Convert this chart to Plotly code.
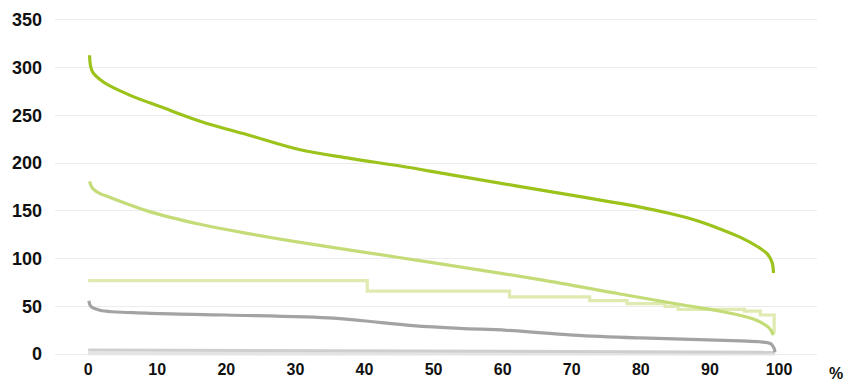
import plotly.graph_objects as go

# Series data (percent of time vs value)
top_x = [0.2, 0.6, 2.2, 6.1, 10.9, 16.2, 23.4, 30.7, 37.9, 45.2, 52.4, 65.4, 79.9, 84.4, 88.5, 91.5, 94.5, 96.8, 98.3, 99.0, 99.2]
top_v = [313, 296, 285, 271, 258, 244, 229, 214, 205, 197, 188, 172, 154, 147, 139, 131, 122, 113, 105, 96, 85]

mid_x = [0.2, 0.6, 1.5, 3.2, 9.0, 16.2, 23.4, 30.7, 45.2, 52.4, 65.4, 77.0, 85.7, 91.5, 96.2, 98.5, 99.2]
mid_v = [181, 174, 169, 164, 149, 136, 126, 117, 101, 93, 78, 63, 52, 45, 37, 28, 20]

step_x = [0, 40.4, 61.0, 72.6, 78.0, 83.5, 85.4, 95.0, 97.3, 99.3, 99.3]
step_v = [77, 66, 60, 56, 53, 50, 47, 45, 41, 41, 22]

gray_x = [0.1, 0.4, 1.7, 8.5, 20.0, 35.5, 39.8, 47.0, 53.8, 60.6, 70.2, 79.9, 94.4, 97.2, 98.8, 99.3, 99.4]
gray_v = [56, 50, 46, 43, 41, 37.7, 35, 30, 27, 25, 20, 17, 14, 13, 11, 6, 2]

low1_x = [0, 20, 40, 60, 80, 99.4]
low1_v = [4.5, 4.0, 3.5, 3.0, 2.5, 2.0]

low2_x = [0, 50, 99.4]
low2_v = [0.6, 0.5, 0.4]

x_ticks = [0, 10, 20, 30, 40, 50, 60, 70, 80, 90, 100]
y_ticks = [0, 50, 100, 150, 200, 250, 300, 350]

fig = go.Figure()
fig.add_trace(go.Scatter(x=low2_x, y=low2_v, mode="lines", line=dict(color="#e4e4e4", width=3.5)))
fig.add_trace(go.Scatter(x=low1_x, y=low1_v, mode="lines", line=dict(color="#cfcfcf", width=3)))
fig.add_trace(go.Scatter(x=gray_x, y=gray_v, mode="lines", line=dict(color="#a3a3a3", width=3.2, shape="spline")))
fig.add_trace(go.Scatter(x=step_x, y=step_v, mode="lines", line=dict(color="#dfeab0", width=3.2, shape="hv")))
fig.add_trace(go.Scatter(x=mid_x, y=mid_v, mode="lines", line=dict(color="#c4dc78", width=3.2, shape="spline")))
fig.add_trace(go.Scatter(x=top_x, y=top_v, mode="lines", line=dict(color="#9bc31c", width=3.2, shape="spline")))

fig.update_layout(
    width=847, height=385,
    margin=dict(l=55, r=30, t=18, b=27),
    plot_bgcolor="white", paper_bgcolor="white",
    showlegend=False,
    font=dict(family="Liberation Sans, Arial, sans-serif", size=16, color="#111111"),
    xaxis=dict(range=[-4.8, 105.5], tickvals=x_ticks, showgrid=False, zeroline=False,
               showline=False, tickfont=dict(size=16, weight="bold"), ticks="",
               automargin=False),
    yaxis=dict(range=[-4, 352], tickvals=y_ticks, showgrid=True, gridcolor="#ececec",
               gridwidth=1, zeroline=False, showline=False, ticks="",
               tickfont=dict(size=18, weight="bold"), ticklabelstandoff=12,
               automargin=False),
    annotations=[dict(text="%", xref="paper", yref="paper", x=1.025, y=-0.045, showarrow=False,
                      font=dict(size=16, weight="bold"), xanchor="center", yanchor="middle")],
)

fig.write_html("out.html", config={"displayModeBar": False},
               post_script="document.body.style.margin='0px';document.body.style.overflow='hidden';")
